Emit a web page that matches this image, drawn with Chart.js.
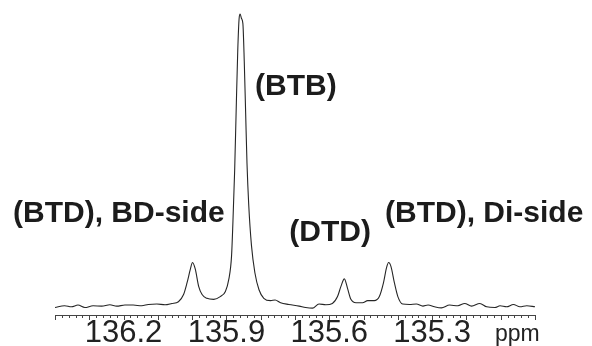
<!DOCTYPE html>
<html>
<head>
<meta charset="utf-8">
<script src="https://cdn.jsdelivr.net/npm/chart.js@4"></script>
<style>
  html, body { margin: 0; padding: 0; background: #fff; }
</style>
</head>
<body>
<canvas id="nmrChart" width="592" height="346"></canvas>
<script>
// chemical shift (ppm) and intensity
const shifts = [
  136.400, 136.372, 136.352, 136.333, 136.313, 136.289, 136.264, 136.240, 136.220, 136.196,
  136.172, 136.147, 136.128, 136.103, 136.079, 136.059, 136.040, 136.025, 136.015, 136.005,
  135.999, 135.991, 135.981, 135.971, 135.957, 135.937, 135.918, 135.903, 135.893, 135.885,
  135.881, 135.876, 135.871, 135.867, 135.863, 135.860, 135.856, 135.852, 135.848, 135.844,
  135.840, 135.835, 135.827, 135.817, 135.805, 135.791, 135.771, 135.758, 135.742, 135.718,
  135.688, 135.669, 135.649, 135.630, 135.610, 135.591, 135.576, 135.566, 135.556, 135.547,
  135.537, 135.522, 135.503, 135.488, 135.469, 135.454, 135.442, 135.433, 135.427, 135.420,
  135.410, 135.400, 135.386, 135.366, 135.346, 135.327, 135.312, 135.293, 135.273, 135.249,
  135.225, 135.205, 135.185, 135.161, 135.141, 135.117, 135.102, 135.083, 135.063, 135.044,
  135.024, 135.000
];
const intensity = [
  7.3, 9.0, 8.0, 9.7, 7.3, 9.0, 8.7, 10.0, 8.7, 9.7,
  9.7, 9.0, 10.3, 10.7, 10.0, 11.3, 13.0, 20.0, 31.3, 45.0,
  51.3, 45.0, 28.0, 20.0, 16.3, 15.3, 18.0, 23.0, 35.0, 58.0,
  91.3, 141.3, 208.0, 258.0, 289.7, 294.0, 289.7, 284.7, 248.0, 198.0,
  148.0, 108.0, 68.0, 41.3, 24.7, 16.3, 14.0, 14.7, 12.0, 10.3,
  8.7, 7.3, 6.7, 10.7, 10.0, 11.3, 18.0, 28.0, 35.3, 26.3,
  15.3, 12.0, 12.0, 14.0, 14.0, 18.0, 31.3, 46.3, 51.3, 47.3,
  31.3, 18.0, 10.7, 10.3, 10.7, 8.7, 9.7, 8.0, 7.0, 9.7,
  9.0, 11.3, 8.7, 11.3, 8.0, 7.3, 9.0, 8.0, 10.3, 8.0,
  9.0, 8.0
];
const tickLabels = [136.2, 135.9, 135.6, 135.3];
const peakNames = ['(BTD), BD-side', '(BTB)', '(DTD)', '(BTD), Di-side'];
const unitLabel = 'ppm';

// tick marks every 0.02 ppm, longer ones every 0.1 ppm, plus the text
const decorPlugin = {
  id: 'decor',
  afterDraw(chart) {
    const ctx = chart.ctx;
    const xs = chart.scales.x;
    const y0 = chart.chartArea.bottom;
    ctx.save();
    ctx.strokeStyle = '#444';
    ctx.lineWidth = 1;
    ctx.beginPath();
    for (let i = 0; i <= 70; i++) {
      const v = 135.0 + i * 0.02;
      const px = Math.round(xs.getPixelForValue(v)) + 0.5;
      const len = (i % 5 === 0) ? 5 : 3;
      ctx.moveTo(px, y0);
      ctx.lineTo(px, y0 + len);
    }
    ctx.stroke();

    ctx.fillStyle = '#1c1c1c';
    ctx.textBaseline = 'alphabetic';
    ctx.font = 'bold 30px "Liberation Sans", Arial, sans-serif';
    ctx.textAlign = 'left';
    ctx.fillText(peakNames[0], 13, 222);
    ctx.fillText(peakNames[1], 255, 95);
    ctx.textAlign = 'right';
    ctx.fillText(peakNames[2], 371, 241);
    ctx.textAlign = 'left';
    ctx.fillText(peakNames[3], 385, 222);

    ctx.fillStyle = '#222';
    ctx.font = '23px "Liberation Sans", Arial, sans-serif';
    ctx.fillText(unitLabel, 495, 341);
    ctx.restore();
  }
};

document.addEventListener('DOMContentLoaded', function() {
  const ctx = document.getElementById('nmrChart').getContext('2d');
  const points = shifts.map((s, i) => ({ x: s, y: intensity[i] }));

  new Chart(ctx, {
    type: 'line',
    data: {
      datasets: [{
        data: points,
        borderColor: '#262626',
        borderWidth: 1.1,
        pointRadius: 0,
        fill: false,
        cubicInterpolationMode: 'monotone'
      }]
    },
    options: {
      responsive: false,
      animation: false,
      devicePixelRatio: 1,
      layout: { padding: { left: 55, right: 57, top: 8, bottom: -6 } },
      plugins: { legend: { display: false }, tooltip: { enabled: false } },
      scales: {
        x: {
          type: 'linear',
          reverse: true,
          min: 135.0,
          max: 136.4,
          afterBuildTicks: axis => { axis.ticks = tickLabels.map(v => ({ value: v })); },
          ticks: {
            autoSkip: false,
            maxRotation: 0,
            padding: 3,
            color: '#222',
            font: { family: '"Liberation Sans", Arial, sans-serif', size: 31, lineHeight: 1 },
            callback: v => Number(v).toFixed(1)
          },
          grid: { display: false, drawTicks: false },
          border: { display: true, color: '#444', width: 1 }
        },
        y: { display: false, min: 0, max: 300 }
      }
    },
    plugins: [decorPlugin]
  });
});
</script>
</body>
</html>
